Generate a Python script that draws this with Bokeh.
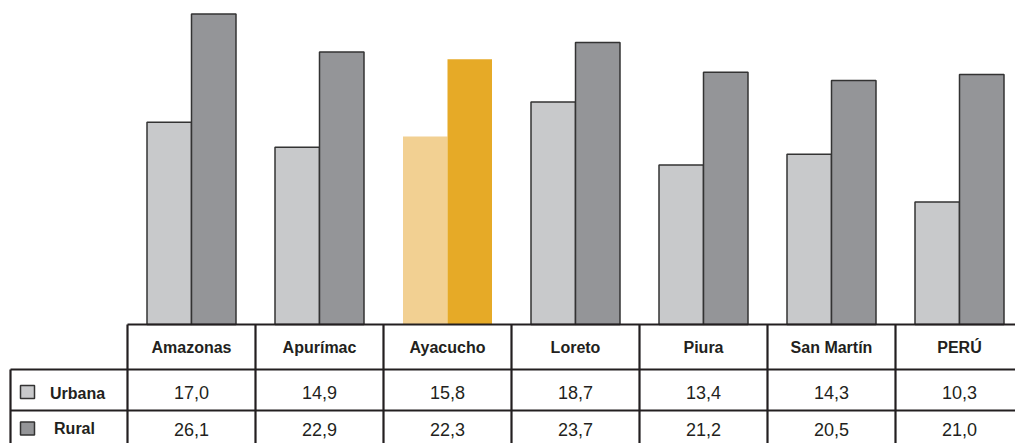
from bokeh.plotting import figure
from bokeh.models import Range1d, ColumnDataSource
from bokeh.core.properties import value
from bokeh.embed import file_html
from bokeh.resources import INLINE

# ---- data ----
regions = ["Amazonas", "Apurímac", "Ayacucho", "Loreto", "Piura", "San Martín", "PERÚ"]
urbana = [17.0, 14.9, 15.8, 18.7, 13.4, 14.3, 10.3]
rural = [26.1, 22.9, 22.3, 23.7, 21.2, 20.5, 21.0]
row_labels = ["Urbana", "Rural"]
highlight = "Ayacucho"

# ---- styles ----
C_URB = "#c8c9cb"
C_RUR = "#949598"
C_URB_HI = "#f2d092"
C_RUR_HI = "#e6aa27"
LINE = "#231f20"
FONT = "Liberation Sans"

W, H = 1015, 443
PX_PER_UNIT = 11.9
COL_W = 128.0


def px(X):  # picture x -> column units
    return (X - 127) / COL_W


def py(P):  # picture y -> value units
    return (324 - P) / PX_PER_UNIT


p = figure(width=W, height=H, output_backend="svg", toolbar_location=None,
           x_range=Range1d(px(0), px(W)), y_range=Range1d(py(H), py(0)),
           min_border=0, outline_line_color=None)
p.axis.visible = False
p.grid.visible = False
p.background_fill_color = "white"

n = len(regions)
centers = [i + 0.5 for i in range(n)]
bw = 44.5 / COL_W
urb_fill = [C_URB_HI if r == highlight else C_URB for r in regions]
rur_fill = [C_RUR_HI if r == highlight else C_RUR for r in regions]
line_c = [None if r == highlight else "#333333" for r in regions]

src = ColumnDataSource(dict(
    xu=[c - bw / 2 for c in centers], xr=[c + bw / 2 for c in centers],
    u=urbana, r=rural, fu=urb_fill, fr=rur_fill, lc=line_c,
    lu=[f"{v:.1f}".replace(".", ",") for v in urbana],
    lr=[f"{v:.1f}".replace(".", ",") for v in rural],
    reg=regions, xc=centers))

p.vbar(x="xu", top="u", bottom=0, width=bw, fill_color="fu", line_color="lc",
       line_width=1.5, source=src)
p.vbar(x="xr", top="r", bottom=0, width=bw, fill_color="fr", line_color="lc",
       line_width=1.5, source=src)

# ---- table lines ----
right = px(1030)
hx0 = [px(127), px(10), px(10)]
hy = [py(324), py(369), py(410)]
p.segment(x0=hx0, y0=hy, x1=[right] * 3, y1=hy, line_color=LINE, line_width=2.2)
bottom = py(460)
vx = [px(10)] + [float(i) for i in range(n + 1)]
vy0 = [py(369)] + [py(324)] * (n + 1)
p.segment(x0=vx, y0=vy0, x1=vx, y1=[bottom] * len(vx), line_color=LINE, line_width=2.2)

# ---- table text ----
p.text(x="xc", y=py(347), text="reg", source=src, text_align="center",
       text_baseline="middle", text_font=value(FONT), text_font_style="bold",
       text_font_size="16px", text_color="#231f20")
p.text(x="xc", y=py(392), text="lu", source=src, text_align="center",
       text_baseline="middle", text_font=value(FONT),
       text_font_size="18px", text_color="#231f20")
p.text(x="xc", y=py(429), text="lr", source=src, text_align="center",
       text_baseline="middle", text_font=value(FONT),
       text_font_size="18px", text_color="#231f20")

p.text(x=[px(77), px(74)], y=[py(393), py(428)], text=row_labels,
       text_align="center", text_baseline="middle", text_font=value(FONT),
       text_font_style="bold", text_font_size="16px", text_color="#231f20")

p.rect(x=[px(27), px(27)], y=[py(391.5), py(428)], width=14, height=13,
       width_units="screen", height_units="screen",
       fill_color=[C_URB, C_RUR], line_color="#333333", line_width=1.5)

open("out.html", "w").write(file_html(p, INLINE))
